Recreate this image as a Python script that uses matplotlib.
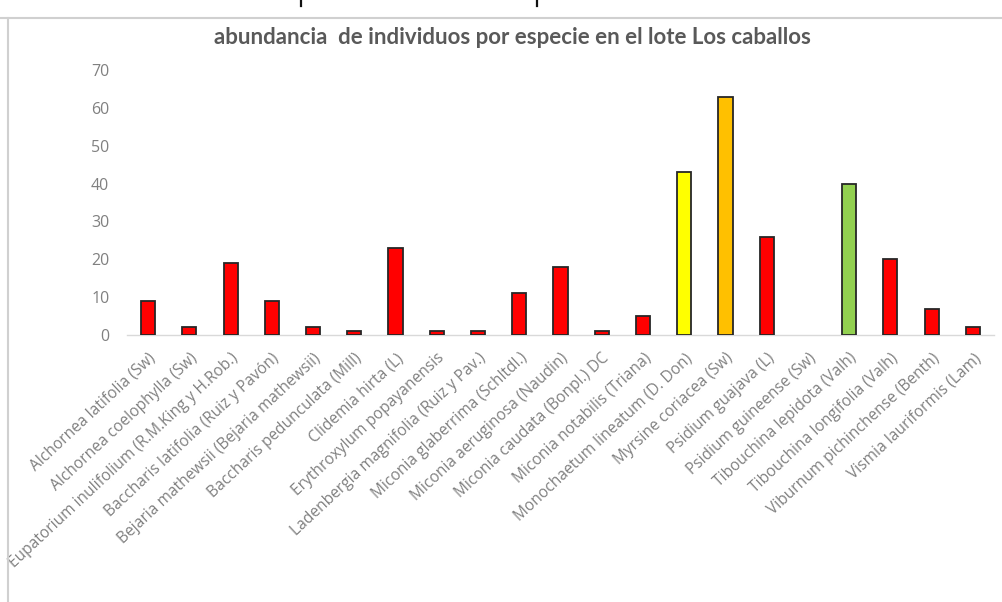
import matplotlib
matplotlib.use("Agg")
import matplotlib.pyplot as plt
from matplotlib.lines import Line2D

# Species sampled in the plot and individual counts
species = [
    "Alchornea latifolia (Sw)",
    "Alchornea coelophylla (Sw)",
    "Eupatorium inulifolium (R.M.King y H.Rob.)",
    "Baccharis latifolia (Ruiz y Pavón)",
    "Bejaria mathewsii (Bejaria mathewsii)",
    "Baccharis pedunculata (Mill)",
    "Clidemia hirta (L)",
    "Erythroxylum popayanensis",
    "Ladenbergia magnifolia (Ruiz y Pav.)",
    "Miconia glaberrima (Schltdl.)",
    "Miconia aeruginosa (Naudin)",
    "Miconia caudata (Bonpl.) DC",
    "Miconia notabilis (Triana)",
    "Monochaetum lineatum (D. Don)",
    "Myrsine coriacea (Sw)",
    "Psidium guajava (L)",
    "Psidium guineense (Sw)",
    "Tibouchina lepidota (Valh)",
    "Tibouchina longifolia (Valh)",
    "Viburnum pichinchense (Benth)",
    "Vismia lauriformis (Lam)",
]
counts = [9, 2, 19, 9, 2, 1, 23, 1, 1, 11, 18, 1, 5, 43, 63, 26, 0, 40, 20, 7, 2]

# Highlighted species get their own fill colour; the rest are red
highlight = {
    "Monochaetum lineatum (D. Don)": "#FFFF00",
    "Myrsine coriacea (Sw)": "#FFC000",
    "Tibouchina lepidota (Valh)": "#92D050",
}
colors = [highlight.get(s, "#FF0000") for s in species]

yticks = [0, 10, 20, 30, 40, 50, 60, 70]
title = "abundancia  de individuos por especie en el lote Los caballos"

plt.rcParams["font.family"] = ["Open Sans", "DejaVu Sans"]

W, H = 1002, 602
fig = plt.figure(figsize=(W / 100, H / 100), dpi=100)
fig.patch.set_facecolor("white")

# chart frame (top and left edges)
frame_col = "#d0d0d0"
fig.add_artist(Line2D([0, 1], [1 - 18 / H, 1 - 18 / H], transform=fig.transFigure,
                      color=frame_col, lw=1.5))
fig.add_artist(Line2D([8 / W, 8 / W], [0, 1 - 18 / H], transform=fig.transFigure,
                      color=frame_col, lw=1.5))
# descenders of the text line above the chart
for px in (301, 537):
    fig.add_artist(Line2D([px / W, px / W], [1, 1 - 6 / H], transform=fig.transFigure,
                          color="#111111", lw=1.6))

left, right = 127.4 / W, 993.6 / W
bottom, top = 1 - 335 / H, 1 - 70 / H
ax = fig.add_axes([left, bottom, right - left, top - bottom])

x = list(range(len(species)))
bars = ax.bar(x, counts, width=0.34, color=colors, edgecolor="#262626",
              linewidth=1.3, zorder=3)
for b, v in zip(bars, counts):
    if v == 0:
        b.set_linewidth(0)

ax.set_xlim(-0.5, len(species) - 0.5)
ax.set_ylim(0, 70)
ax.set_yticks(yticks)
ax.set_yticklabels([str(v) for v in yticks])
ax.set_xticks(x)
ax.set_xticklabels(species, rotation=43, ha="right", rotation_mode="anchor")

for s in ("top", "right", "left"):
    ax.spines[s].set_visible(False)
ax.spines["bottom"].set_color("#d9d9d9")
ax.spines["bottom"].set_linewidth(1.0)
ax.tick_params(axis="both", length=0)
ax.tick_params(axis="y", pad=13, labelcolor="#808080", labelsize=11.5)
ax.tick_params(axis="x", pad=11, labelcolor="#808080", labelsize=11.2)

fig.text(512 / W, 1 - 38 / H, title, ha="center", va="center",
         fontsize=16, fontweight="bold", color="#595959", family="Lato")

fig.savefig("out.png", dpi=100, facecolor="white")
